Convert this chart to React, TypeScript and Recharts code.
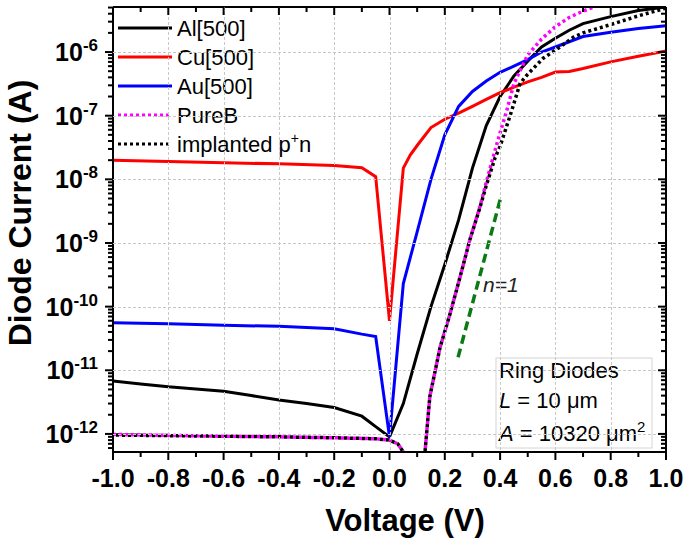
import { LineChart, Line, XAxis, YAxis, Customized } from 'recharts';

const FONT = '"Liberation Sans", Arial, Helvetica, sans-serif';

// [voltage (V), diode current (A)]
const alCurve: [number, number][] = [
  [-1.0, 6.8e-12], [-0.9, 6.1e-12], [-0.8, 5.5e-12], [-0.7, 5.1e-12], [-0.6, 4.7e-12],
  [-0.5, 4.0e-12], [-0.4, 3.4e-12], [-0.3, 3.0e-12], [-0.2, 2.6e-12], [-0.1, 1.9e-12],
  [-0.05, 1.3e-12], [0.0, 9.0e-13], [0.05, 3.0e-12], [0.1, 1.8e-11], [0.15, 1.0e-10],
  [0.2, 4.6e-10], [0.25, 2.3e-9], [0.3, 1.5e-8], [0.35, 7.0e-8], [0.4, 2.0e-7],
  [0.45, 4.2e-7], [0.5, 7.2e-7], [0.55, 1.2e-6], [0.6, 1.65e-6], [0.65, 2.2e-6],
  [0.7, 2.8e-6], [0.8, 3.6e-6], [0.9, 4.5e-6], [1.0, 5.1e-6],
];

const cuCurve: [number, number][] = [
  [-1.0, 2.0e-8], [-0.8, 1.9e-8], [-0.6, 1.82e-8], [-0.4, 1.75e-8], [-0.2, 1.65e-8],
  [-0.1, 1.52e-8], [-0.05, 1.1e-8], [0.0, 6.0e-11], [0.05, 1.5e-8], [0.075, 2.4e-8],
  [0.1, 3.4e-8], [0.15, 6.5e-8], [0.2, 8.8e-8], [0.25, 1.1e-7], [0.3, 1.4e-7],
  [0.35, 1.8e-7], [0.4, 2.3e-7], [0.45, 2.8e-7], [0.5, 3.4e-7], [0.55, 4.0e-7],
  [0.6, 4.85e-7], [0.65, 4.95e-7], [0.7, 5.5e-7], [0.8, 7.0e-7], [0.9, 8.6e-7], [1.0, 1.04e-6],
];

const auCurve: [number, number][] = [
  [-1.0, 5.6e-11], [-0.8, 5.4e-11], [-0.6, 5.1e-11], [-0.4, 4.9e-11], [-0.2, 4.5e-11],
  [-0.1, 3.7e-11], [-0.05, 3.4e-11], [0.0, 9.0e-13], [0.05, 2.3e-10], [0.1, 1.5e-9],
  [0.15, 1.0e-8], [0.2, 5.0e-8], [0.25, 1.4e-7], [0.3, 2.4e-7], [0.35, 3.5e-7],
  [0.4, 4.8e-7], [0.45, 6.0e-7], [0.5, 7.6e-7], [0.55, 1.0e-6], [0.6, 1.2e-6],
  [0.7, 1.75e-6], [0.8, 2.05e-6], [0.9, 2.35e-6], [1.0, 2.6e-6],
];

const pureBCurve: [number, number][] = [
  [-1.0, 9.8e-13], [-0.8, 9.5e-13], [-0.6, 9.2e-13], [-0.4, 9.0e-13], [-0.2, 8.7e-13],
  [-0.05, 8.4e-13], [0.0, 8.0e-13], [0.03, 7.0e-13], [0.06, 4.5e-13], [0.1, 1.5e-13],
  [0.128, 5.0e-13], [0.146, 3.9e-12], [0.183, 2.3e-11], [0.22, 8.0e-11], [0.255, 2.9e-10],
  [0.29, 1.1e-9], [0.327, 3.7e-9], [0.35, 9.0e-9], [0.382, 2.9e-8], [0.4, 5.4e-8],
  [0.424, 1.2e-7], [0.45, 3.2e-7], [0.5, 9.0e-7], [0.55, 1.6e-6], [0.6, 2.5e-6],
  [0.65, 3.5e-6], [0.7, 4.4e-6], [0.76, 5.5e-6],
];

const implantedCurve: [number, number][] = [
  [-1.0, 9.6e-13], [-0.8, 9.4e-13], [-0.6, 9.2e-13], [-0.4, 9.0e-13], [-0.2, 8.7e-13],
  [-0.05, 8.4e-13], [0.0, 8.0e-13], [0.03, 7.0e-13], [0.06, 4.5e-13], [0.1, 1.5e-13],
  [0.128, 5.0e-13], [0.146, 3.9e-12], [0.183, 2.3e-11], [0.22, 8.0e-11], [0.255, 2.9e-10],
  [0.29, 1.1e-9], [0.327, 3.6e-9], [0.35, 8.0e-9], [0.382, 2.2e-8], [0.4, 3.3e-8],
  [0.442, 1.2e-7], [0.472, 3.2e-7], [0.5, 4.5e-7], [0.556, 8.0e-7], [0.617, 1.2e-6],
  [0.664, 1.7e-6], [0.7, 2.0e-6], [0.8, 2.7e-6], [0.9, 3.7e-6], [1.0, 4.9e-6],
];

// n=1 reference slope
const idealSlope: [number, number][] = [[0.248, 1.6e-11], [0.403, 5.3e-9]];

const xMajorTicks = [-1.0, -0.8, -0.6, -0.4, -0.2, 0.0, 0.2, 0.4, 0.6, 0.8, 1.0];
const xMinorTicks = [-0.9, -0.7, -0.5, -0.3, -0.1, 0.1, 0.3, 0.5, 0.7, 0.9];
const yMajorTicks = [1e-12, 1e-11, 1e-10, 1e-9, 1e-8, 1e-7, 1e-6];
const yMinorSteps = [2, 3, 4, 5, 6, 7, 8, 9];
const xDomain: [number, number] = [-1, 1];
const yDomain: [number, number] = [5.2e-13, 5.1e-6];

const xAllTicks = [...xMajorTicks, ...xMinorTicks].sort((a, b) => a - b);
const yAllTicks = [1e-13, ...yMajorTicks]
  .flatMap((d) => [d, ...yMinorSteps.map((s) => d * s)])
  .filter((v) => v > yDomain[0] && v < yDomain[1]);

const toPoints = (rows: [number, number][]) => rows.map(([v, i]) => ({ v, i }));

const series = [
  { name: 'Al[500]', data: alCurve, color: '#000000', offset: 0 },
  { name: 'Cu[500]', data: cuCurve, color: '#ff0000', offset: 0 },
  { name: 'Au[500]', data: auCurve, color: '#0000ff', offset: 0 },
  { name: 'PureB', data: pureBCurve, color: '#ff00ff', dash: '3 3', offset: 0 },
  { name: 'implanted p', sup: '+', tail: 'n', data: implantedCurve, color: '#000000', dash: '3 3', offset: 3 },
] as { name: string; sup?: string; tail?: string; data: [number, number][]; color: string; dash?: string; offset: number }[];

// chart layout
const W = 685;
const H = 542;
const margin = { top: 6, right: 18, bottom: 0, left: 13 };
const LEFT_W = 100;
const RIGHT_W = 1;
const TOP_H = 1;
const BOTTOM_H = 90;
const plotW = W - margin.left - margin.right - LEFT_W - RIGHT_W;
const plotH = H - margin.top - margin.bottom - TOP_H - BOTTOM_H;

const isMajorX = (v: number) => xMajorTicks.some((t) => Math.abs(t - v) < 1e-6);
const isMajorY = (v: number) => Math.abs(Math.log10(v) - Math.round(Math.log10(v))) < 1e-6;
const isEdgeX = (v: number) => Math.abs(Math.abs(v) - 1) < 1e-6;
const crisp = (c: number) => Math.round(c) + 0.5;

const tickStroke = { stroke: '#000', strokeWidth: 2 };
const gridStroke = { stroke: '#c8c8c8', strokeWidth: 1, strokeDasharray: '3 2' };

function BottomTick({ x, y, payload }: any) {
  const major = isMajorX(payload.value);
  return (
    <g>
      {major && !isEdgeX(payload.value) && (
        <path d={`M${crisp(x)},${y - plotH}V${y}`} fill="none" {...gridStroke} />
      )}
      <line x1={x} x2={x} y1={y} y2={y + (major ? 8 : 5)} {...tickStroke} />
      {major && (
        <text x={x} y={y + 35} textAnchor="middle" fontFamily={FONT} fontWeight="bold" fontSize={25} fill="#000">
          {Number(payload.value).toFixed(1)}
        </text>
      )}
    </g>
  );
}

function TopTick({ x, y, payload }: any) {
  const major = isMajorX(payload.value);
  return <line x1={x} x2={x} y1={y} y2={y + (major ? 8 : 5)} {...tickStroke} />;
}

function LeftTick({ x, y, payload }: any) {
  const v = payload.value;
  const major = isMajorY(v);
  const exp = Math.round(Math.log10(v));
  return (
    <g>
      {major && <path d={`M${x},${crisp(y)}H${x + plotW}`} fill="none" {...gridStroke} />}
      <line x1={x - (major ? 8 : 5)} x2={x} y1={y} y2={y} {...tickStroke} />
      {major && (
        <text x={x - 15} y={y + 9} textAnchor="end" fontFamily={FONT} fontWeight="bold" fill="#000">
          <tspan fontSize={25}>10</tspan>
          <tspan fontSize={17} dy={-10}>{`${exp}`}</tspan>
        </text>
      )}
    </g>
  );
}

function RightTick({ x, y, payload }: any) {
  const major = isMajorY(payload.value);
  return <line x1={x - (major ? 8 : 5)} x2={x} y1={y} y2={y} {...tickStroke} />;
}

function Overlay() {
  return (
    <g fontFamily={FONT} fill="#000">
      {series.map((s, idx) => {
        const y = 28 + idx * 29;
        return (
          <g key={s.name}>
            <line x1={118} x2={172} y1={y} y2={y} stroke={s.color} strokeWidth={3}
              strokeDasharray={s.dash} />
            <text x={177} y={y + 8} fontSize={22}>
              {s.name}
              {s.sup && <tspan fontSize={14} dy={-9}>{s.sup}</tspan>}
              {s.tail && <tspan dy={9}>{s.tail}</tspan>}
            </text>
          </g>
        );
      })}

      <text x={483} y={292} fontSize={21} fontStyle="italic" fill="#222">n=1</text>

      <rect x={496} y={358} width={156} height={90} fill="#fff" stroke="#d4d4d4" strokeWidth={1} />
      <text x={499} y={378} fontSize={22}>Ring Diodes</text>
      <text x={499} y={408} fontSize={22}>
        <tspan fontStyle="italic">L</tspan> = 10 μm
      </text>
      <text x={499} y={441} fontSize={22}>
        <tspan fontStyle="italic">A</tspan> = 10320 μm
        <tspan fontSize={15} dy={-9}>2</tspan>
      </text>

      <text x={405} y={531} textAnchor="middle" fontSize={31} fontWeight="bold">Voltage (V)</text>
      <text x={31} y={213} textAnchor="middle" fontSize={32} fontWeight="bold"
        transform="rotate(-90, 31, 213)">Diode Current (A)</text>
    </g>
  );
}

export default function App() {
  return (
    <div style={{ position: 'absolute', left: 0, top: 0, background: '#fff' }}>
      <LineChart width={W} height={H} margin={margin}>
        <XAxis
          type="number"
          dataKey="v"
          domain={xDomain}
          ticks={xAllTicks}
          interval={0}
          allowDataOverflow
          height={BOTTOM_H}
          tickSize={0}
          tickMargin={0}
          tickLine={false}
          axisLine={{ stroke: '#000', strokeWidth: 2 }}
          tick={<BottomTick />}
        />
        <XAxis
          xAxisId="top"
          orientation="top"
          type="number"
          dataKey="v"
          domain={xDomain}
          ticks={xAllTicks}
          interval={0}
          allowDataOverflow
          height={TOP_H}
          tickSize={0}
          tickMargin={0}
          tickLine={false}
          axisLine={{ stroke: '#000', strokeWidth: 2 }}
          tick={<TopTick />}
        />
        <YAxis
          type="number"
          dataKey="i"
          scale="log"
          domain={yDomain}
          ticks={yAllTicks}
          interval={0}
          allowDataOverflow
          width={LEFT_W}
          tickSize={0}
          tickMargin={0}
          tickLine={false}
          axisLine={{ stroke: '#000', strokeWidth: 2 }}
          tick={<LeftTick />}
        />
        <YAxis
          yAxisId="right"
          orientation="right"
          type="number"
          scale="log"
          domain={yDomain}
          ticks={yAllTicks}
          interval={0}
          allowDataOverflow
          width={RIGHT_W}
          tickSize={0}
          tickMargin={0}
          tickLine={false}
          axisLine={{ stroke: '#000', strokeWidth: 2 }}
          tick={<RightTick />}
        />

        {series.map((s) => (
          <Line
            key={s.name}
            data={toPoints(s.data)}
            dataKey="i"
            type="linear"
            stroke={s.color}
            strokeWidth={s.dash ? 3.5 : 3}
            strokeDasharray={s.dash}
            strokeDashoffset={s.offset}
            dot={false}
            activeDot={false}
            isAnimationActive={false}
          />
        ))}
        <Line
          data={toPoints(idealSlope)}
          dataKey="i"
          type="linear"
          stroke="#0a7a12"
          strokeWidth={3.5}
          strokeDasharray="9 5"
          dot={false}
          activeDot={false}
          isAnimationActive={false}
        />

        <Customized component={<Overlay />} />
      </LineChart>
    </div>
  );
}
